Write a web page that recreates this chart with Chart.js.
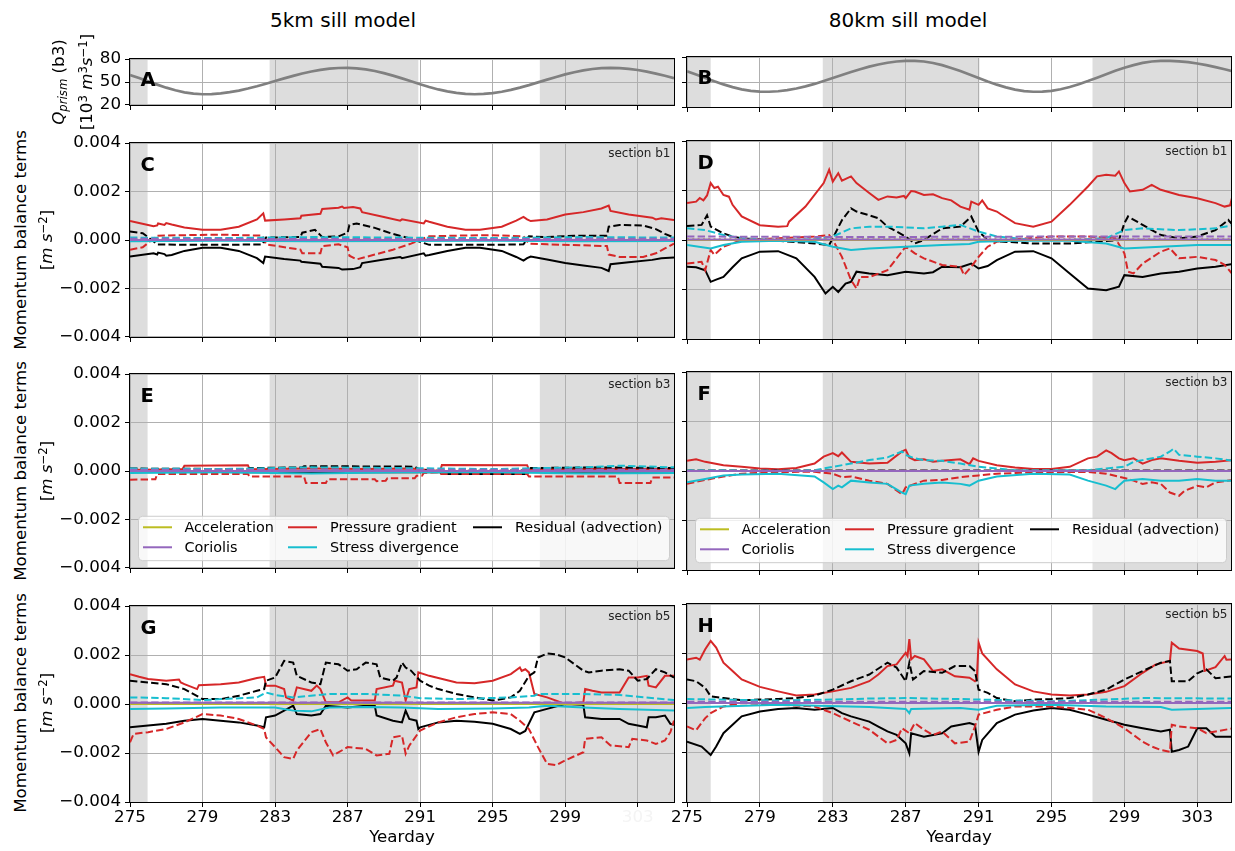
<!DOCTYPE html>
<html>
<head>
<meta charset="utf-8">
<script src="https://cdn.jsdelivr.net/npm/chart.js@4.4.1/dist/chart.umd.min.js"></script>
<style>
  html, body { margin: 0; padding: 0; background: #fff; }
  #fig { position: relative; width: 1235px; height: 851px; overflow: hidden;
         font-family: 'DejaVu Sans', sans-serif; color: #000; }
  #fig canvas { position: absolute; }
  .lbl { position: absolute; white-space: nowrap; line-height: 1; }
  .hc { transform: translateX(-50%); }
  .rot { transform: translate(-50%, -50%) rotate(-90deg); }
  .sup { font-size: 0.7em; position: relative; top: -0.45em; }
  .sub { font-size: 0.7em; position: relative; top: 0.28em; }
</style>
</head>
<body>
<div id="fig"></div>
<script>
// ---------------------------------------------------------------------------
// Tick values and time axis
// ---------------------------------------------------------------------------
const dayTicks = [275, 279, 283, 287, 291, 295, 299, 303];
const momTicks = [-0.004, -0.002, 0, 0.002, 0.004];
const qTicks   = [20, 50, 80];

// Shaded periods (yearday ranges) for the two model runs
const bands5km  = [[275, 275.97], [282.7, 290.9], [297.6, 305]];
const bands80km = [[275, 276.3], [282.45, 291.05], [297.25, 305]];

// ---------------------------------------------------------------------------
// Tidal prism at section b3 [10^3 m^3 s^-1], every half day
// ---------------------------------------------------------------------------
const qDays = [275,275.5,276,276.5,277,277.5,278,278.5,279,279.5,280,280.5,281,281.5,282,282.5,
  283,283.5,284,284.5,285,285.5,286,286.5,287,287.5,288,288.5,289,289.5,290,290.5,291,291.5,292,
  292.5,293,293.5,294,294.5,295,295.5,296,296.5,297,297.5,298,298.5,299,299.5,300,300.5,301,301.5,
  302,302.5,303,303.5,304,304.5,305];
const qPrism5km = [59.1,55.1,50.8,46.6,42.6,39.2,36.5,34.8,34.0,34.2,35.1,36.7,38.8,41.5,44.5,47.8,
  51.3,54.7,58.0,61.1,63.7,65.8,67.4,68.3,68.5,67.9,66.5,64.4,61.6,58.3,54.7,50.9,47.1,43.5,40.3,
  37.7,35.7,34.4,34.0,34.4,35.5,37.3,39.7,42.6,45.9,49.5,53.1,56.6,59.9,62.8,65.2,67.0,68.1,68.5,
  68.2,67.2,65.7,63.6,61.0,58.1,54.9];
const qPrism80km = [62.9,58.9,54.8,50.8,47.1,43.8,41.2,39.4,38.4,38.3,38.9,40.2,42.2,44.7,47.7,51.1,
  54.7,58.3,61.9,65.3,68.4,71.0,73.1,74.6,75.4,75.4,74.6,72.8,70.2,66.9,63.1,59.0,54.7,50.6,46.8,
  43.5,40.9,39.1,38.3,38.4,39.4,41.3,44.0,47.3,51.1,55.2,59.4,63.4,67.1,70.3,72.9,74.6,75.4,75.4,
  74.8,73.8,72.2,70.3,67.9,65.3,62.4];

// ---------------------------------------------------------------------------
// Momentum balance terms, stored as [day, value, day, value, ...]
// values in 10^-3 m s^-2; "...2" arrays are the dashed component
// ---------------------------------------------------------------------------
// 5 km sill, section b1
const c_ac  = [275,0, 305,0];
const c_ac2 = [275,0.02, 305,0.02];
const c_co  = [275,0, 305,0];
const c_co2 = [275,0.05, 290,0.04, 305,0.05];
const c_sd  = [275,-0.05, 280,-0.03, 285,-0.05, 290,-0.04, 295,-0.03, 300,-0.05, 305,-0.04];
const c_sd2 = [275,0.1, 280,0.08, 285,0.12, 290,0.1, 295,0.08, 300,0.12, 305,0.1];
const c_pg  = [275,0.78, 275.5,0.7, 276.3,0.57, 276.5,0.6, 276.55,0.68, 276.9,0.62, 277,0.7, 277.3,0.64,
  278,0.52, 279,0.42, 280,0.42, 281,0.55, 282,0.85, 282.35,1.1, 282.45,0.8, 283.5,0.85, 284.4,0.9,
  284.45,1.0, 285.5,1.08, 285.6,1.28, 286.5,1.33, 286.7,1.38, 286.8,1.32, 287.3,1.36, 287.7,1.3,
  287.8,1.15, 289,0.95, 289.9,0.8, 290,0.85, 291.2,0.68, 291.3,0.8, 291.5,0.75, 292.5,0.55,
  293.5,0.42, 294.3,0.42, 295.5,0.55, 296.3,0.8, 296.7,0.95, 296.9,0.85, 297.1,0.78, 298,0.85,
  299,1.05, 300,1.15, 301,1.3, 301.4,1.42, 301.5,1.2, 302.5,1.05, 303.8,0.92, 304,0.85, 304.3,0.9, 305,0.82];
const c_pg2 = [275,-0.4, 275.7,-0.3, 276.2,0, 276.5,0.18, 278,0.2, 280,0.22, 282.3,0.18, 282.5,-0.18,
  284.4,-0.4, 284.5,-0.55, 285.5,-0.55, 285.6,-0.25, 286.5,-0.18, 287,-0.3, 287.1,-0.65, 287.5,-0.8,
  288.5,-0.6, 289.5,-0.4, 290.5,-0.15, 291.3,0.1, 291.5,0.15, 293,0.18, 295,0.2, 296.7,0.15, 297,-0.15,
  298,-0.18, 300,-0.22, 301.3,-0.25, 301.4,-0.6, 302,-0.7, 303.3,-0.7, 304,-0.55, 304.5,-0.35, 305,-0.15];
const c_res = [275,-0.68, 276.3,-0.55, 276.5,-0.6, 276.55,-0.52, 276.9,-0.58, 277,-0.65, 277.3,-0.62,
  278,-0.45, 279,-0.32, 280,-0.32, 281,-0.45, 282,-0.75, 282.35,-0.95, 282.45,-0.68, 283.5,-0.78,
  284.4,-0.85, 284.45,-0.9, 285.5,-0.98, 285.6,-1.1, 286.5,-1.15, 286.7,-1.22, 287.3,-1.2, 287.7,-1.12,
  287.8,-0.95, 289,-0.8, 289.9,-0.7, 290,-0.75, 291.2,-0.55, 291.3,-0.65, 291.5,-0.62, 292.5,-0.45,
  293.5,-0.32, 294.3,-0.32, 295.5,-0.45, 296.3,-0.7, 296.7,-0.85, 296.9,-0.75, 297.1,-0.68, 298,-0.8,
  299,-0.95, 300,-1.05, 301,-1.15, 301.4,-1.28, 301.5,-1.0, 302.5,-0.92, 303.8,-0.82, 304.3,-0.75, 305,-0.72];
const c_res2 = [275,0.35, 275.7,0.28, 276.2,0, 276.5,-0.18, 278,-0.2, 280,-0.2, 282.3,-0.18, 282.5,0.1,
  284.4,0.12, 284.5,0.3, 285.2,0.42, 285.5,0.2, 285.6,0.12, 286.5,0.15, 287,0.3, 287.1,0.62, 287.5,0.68,
  288.5,0.5, 289.5,0.25, 290.5,0.05, 291.3,-0.15, 291.5,-0.2, 293,-0.2, 295,-0.2, 296.7,-0.18, 297,0.15,
  298,0.12, 299.5,0.18, 301.3,0.18, 301.4,0.55, 302,0.62, 303.3,0.6, 304,0.45, 304.5,0.25, 305,0.1];

// 80 km sill, section b1
const d_ac  = [275,0, 305,0];
const d_ac2 = [275,0.03, 305,0.03];
const d_co  = [275,0.02, 305,0.02];
const d_co2 = [275,0.14, 285,0.12, 295,0.14, 305,0.14];
const d_sd  = [275,-0.2, 276.3,-0.34, 277,-0.2, 278,-0.07, 280,-0.03, 282,-0.07, 283,-0.27, 284,-0.4,
  285,-0.34, 287,-0.27, 289,-0.2, 290.5,-0.16, 291,-0.07, 293,-0.03, 296,-0.03, 298,-0.14, 299,-0.34,
  301,-0.27, 303,-0.2, 305,-0.2];
const d_sd2 = [275,0.47, 276,0.4, 277,0.2, 278,0.07, 280,0, 282,0.03, 283,0.14, 284,0.47, 285,0.54,
  286,0.54, 287,0.51, 288,0.47, 289,0.54, 290,0.61, 291,0.34, 292,0.14, 294,0, 296,0, 298,0.07, 299,0.4,
  300,0.47, 302,0.4, 304,0.47, 305,0.6];
const d_pg  = [275,1.49, 275.5,1.55, 275.7,1.7, 275.9,1.6, 276.1,1.8, 276.3,2.3, 276.5,2.1, 276.7,2.15,
  277,1.82, 277.3,1.75, 277.5,1.42, 278,0.95, 279,0.6, 280,0.54, 280.5,0.56, 280.6,0.74, 281.5,1.35,
  282.5,2.3, 282.8,2.84, 283,2.36, 283.3,2.7, 283.5,2.4, 284,2.57, 284.3,2.3, 285,1.9, 285.5,1.62,
  286,1.76, 286.5,1.72, 286.9,1.78, 287,1.69, 287.3,1.98, 287.5,1.96, 288,1.82, 288.5,1.85, 289,1.69,
  289.5,1.6, 290,1.35, 290.5,1.22, 290.6,1.55, 291,1.42, 291.2,1.6, 291.5,1.28, 292,1.15, 292.2,1.05,
  293,0.68, 294,0.54, 295,0.74, 296,1.42, 297,2.16, 297.5,2.57, 298,2.64, 298.5,2.6, 298.7,2.77,
  299,2.3, 299.3,1.96, 300,2.03, 300.5,2.23, 301,2.03, 302,1.82, 303,1.69, 304,1.49, 304.5,1.35,
  304.8,1.4, 304.9,1.69];
const d_pg2 = [275,-0.95, 275.8,-0.88, 276,-1.22, 276.3,-0.4, 276.5,-0.6, 277,-0.27, 278,0, 280,0.07,
  282,0.14, 282.8,0.2, 283,0, 283.5,-0.68, 284,-1.62, 284.3,-1.96, 284.5,-1.49, 285,-1.5, 286,-1.22,
  287,-0.27, 287.5,-0.54, 288,-0.74, 289,-1.01, 290,-1.08, 290.2,-1.42, 290.6,-1.08, 291,-0.68,
  291.5,-0.27, 292,-0.07, 293,0.03, 295,0.14, 297,0.14, 298.5,0.07, 299,-0.54, 299.2,-1.28, 299.5,-1.35,
  300,-0.95, 301,-0.47, 301.5,-0.34, 302,-0.74, 303,-0.68, 304,-0.81, 304.5,-1.0, 304.9,-1.35];
const d_res = [275,-1.08, 275.5,-1.1, 276,-1.22, 276.3,-1.69, 276.6,-1.6, 277,-1.49, 277.5,-1.1,
  278,-0.74, 279,-0.47, 280,-0.45, 281,-0.74, 282,-1.49, 282.6,-2.16, 283,-1.89, 283.3,-2.1, 283.7,-1.76,
  284,-1.69, 284.3,-1.28, 285,-1.35, 286,-1.42, 287,-1.28, 288,-1.35, 288.5,-1.3, 289,-1.08, 290,-1.1,
  290.6,-0.95, 291,-1.15, 291.5,-1.05, 292,-0.81, 293,-0.47, 294,-0.45, 295,-0.74, 296,-1.35, 297,-1.96,
  298,-2.03, 298.7,-1.89, 299,-1.42, 300,-1.49, 301,-1.35, 302,-1.28, 303,-1.15, 304,-1.08, 304.9,-0.97];
const d_res2 = [275,0.57, 275.8,0.61, 276.1,1.0, 276.3,0.54, 277,0.27, 277.5,0.14, 278,0.07, 280,-0.03,
  282,-0.14, 282.8,-0.2, 283,0.07, 283.5,0.8, 284,1.28, 284.3,1.15, 285,1.0, 285.5,0.88, 286,0.54,
  287,0.14, 287.5,-0.14, 288,0, 289,0.47, 290,0.54, 290.6,0.95, 291,0.34, 291.5,0, 292,-0.05, 294,-0.14,
  296,-0.14, 297.5,-0.07, 298.7,0, 299,0.68, 299.2,0.95, 300,0.61, 301,0.2, 302,0.07, 303,0.14, 304,0.4,
  304.7,0.81, 304.9,0.65];

// 5 km sill, section b3
const e_ac  = [275,0, 305,0];
const e_ac2 = [275,0.02, 305,0.02];
const e_co  = [275,0, 305,0];
const e_co2 = [275,0.05, 305,0.05];
const e_sd  = [275,-0.08, 280,-0.05, 285,-0.1, 290,-0.05, 295,-0.05, 300,-0.1, 305,-0.08];
const e_sd2 = [275,0.1, 280,0.08, 285,0.15, 290,0.12, 295,0.08, 300,0.15, 302,0.22, 305,0.15];
const e_pg  = [275,0.04, 277.9,0.08, 278,0.22, 281.5,0.24, 281.6,0.07, 285,0.1, 288,0.08, 290.5,0.1,
  292.1,0, 292.2,0.25, 296.9,0.24, 297,0.06, 300,0.08, 305,0.08];
const e_pg2 = [275,-0.36, 276.4,-0.34, 276.5,-0.12, 281.5,-0.12, 281.6,-0.23, 284.6,-0.23, 284.7,-0.5,
  285.8,-0.5, 285.9,-0.34, 288.5,-0.34, 288.6,-0.42, 289.1,-0.4, 289.2,-0.3, 290.7,-0.3, 290.8,-0.2,
  291.1,-0.2, 291.2,-0.08, 292,-0.05, 292.1,-0.12, 296.9,-0.12, 297,-0.23, 301.9,-0.23, 302,-0.5,
  303.7,-0.5, 303.8,-0.27, 305,-0.27];
const e_res  = [275,-0.02, 281.6,-0.05, 292.1,-0.05, 292.2,-0.12, 296.9,-0.12, 297,-0.03, 305,-0.02];
const e_res2 = [275,0.1, 281.5,0.08, 281.6,0.12, 284.5,0.15, 284.6,0.2, 290.7,0.18, 291,0.05, 292.1,0,
  296.9,0.02, 297,0.12, 301,0.15, 305,0.12];

// 80 km sill, section b3
const f_ac  = [275,0, 305,0];
const f_ac2 = [275,0.01, 305,0.01];
const f_co  = [275,0, 305,0];
const f_co2 = [275,0.01, 305,0.01];
const f_sd  = [275,-0.46, 276,-0.32, 277,-0.18, 278,-0.14, 280,-0.11, 282,-0.22, 282.5,-0.46, 283,-0.73,
  283.3,-0.59, 283.5,-0.66, 284,-0.39, 285,-0.46, 286,-0.52, 286.8,-0.87, 287,-0.94, 287.2,-0.59,
  288,-0.52, 289,-0.46, 290,-0.52, 290.5,-0.59, 291,-0.39, 292,-0.22, 294,-0.11, 296,-0.14, 297,-0.39,
  298,-0.59, 298.5,-0.73, 298.7,-0.59, 299,-0.39, 300,-0.32, 301,-0.39, 302,-0.39, 303,-0.32, 304,-0.39, 305,-0.39];
const f_sd2 = [275,0.03, 277,0.03, 280,0, 282,0.03, 283,0.17, 284,0.3, 285,0.44, 286,0.55, 286.8,0.79,
  287,0.65, 287.5,0.51, 288,0.44, 289,0.41, 290,0.3, 291,0.17, 293,0.03, 297,0.03, 298,0.1, 299,0.17,
  299.5,0.37, 300,0.44, 301,0.58, 301.5,0.79, 301.7,0.9, 302,0.65, 303,0.58, 304,0.51, 305,0.41];
const f_pg  = [275,0.41, 275.5,0.47, 276,0.37, 277,0.23, 278,0.17, 279,0.1, 280,0.07, 281,0.12, 282,0.3,
  282.5,0.58, 283,0.72, 283.3,0.6, 283.5,0.75, 284,0.37, 285,0.3, 286,0.33, 286.8,0.79, 287,0.86,
  287.2,0.55, 287.5,0.44, 288,0.47, 288.5,0.37, 289,0.41, 290,0.47, 290.5,0.28, 290.7,0.51, 291,0.41,
  292,0.23, 293,0.14, 294,0.08, 295,0.08, 296,0.17, 297,0.51, 297.5,0.58, 298,0.83, 298.3,0.72,
  298.7,0.51, 299,0.44, 299.5,0.51, 300,0.3, 300.5,0.44, 301,0.51, 302,0.41, 303,0.33, 304,0.37, 305,0.44];
const f_pg2 = [275,-0.52, 276,-0.36, 277,-0.22, 278,-0.11, 280,-0.04, 282,-0.03, 283,-0.11, 283.5,-0.25,
  284,-0.22, 285,-0.39, 286,-0.52, 286.8,-0.94, 287,-0.66, 287.5,-0.52, 288,-0.39, 289,-0.36, 290,-0.25,
  291,-0.18, 292,-0.11, 294,-0.05, 297,-0.04, 298,-0.11, 299,-0.28, 299.5,-0.39, 300,-0.52, 300.5,-0.46,
  301,-0.52, 301.5,-0.87, 302,-1.0, 302.3,-0.8, 303,-0.6, 303.5,-0.66, 304,-0.46, 305,-0.36];
const f_res  = [275,0, 305,0];
const f_res2 = [275,0.02, 305,0.02];

// 5 km sill, section b5
const g_ac  = [275,0, 305,0];
const g_ac2 = [275,0.01, 305,0.01];
const g_co  = [275,0.05, 305,0.05];
const g_co2 = [275,0.06, 305,0.06];
const g_sd  = [275,-0.2, 277,-0.18, 280,-0.14, 283,-0.14, 284,-0.27, 285,-0.3, 286,-0.14, 288,-0.12,
  290,-0.14, 292,-0.2, 295,-0.18, 297,-0.14, 298,-0.07, 300,-0.14, 302,-0.2, 305,-0.27];
const g_sd2 = [275,0.27, 277,0.24, 279,0.16, 282,0.27, 282.5,0.47, 283,0.37, 284,0.27, 286,0.41,
  288,0.41, 290,0.34, 291,0.24, 293,0.2, 296,0.27, 297.3,0.34, 297.5,0.41, 300,0.41, 302,0.37, 305,0.16];
const g_pg  = [275,1.22, 275.5,1.11, 276,1.02, 277,0.95, 277.7,1.0, 277.8,0.88, 278,0.81, 278.7,0.61,
  278.8,0.77, 280,0.81, 281,0.88, 282,1.06, 282.4,1.11, 282.5,0.75, 283,0.75, 283.5,0.61, 283.6,0.27,
  284,0.14, 284.2,0.68, 285,0.54, 285.3,0.75, 285.5,0.61, 285.8,0.07, 286.5,0.07, 287,0.27, 287.2,0.14,
  288.5,0.14, 288.6,0.61, 289.5,0.75, 289.6,0.95, 290,0.88, 290.2,0.14, 290.4,0.61, 290.8,0.68,
  290.9,1.29, 291.5,1.15, 292,1.06, 293,0.88, 294,0.85, 295,0.95, 296,1.22, 296.5,1.49, 296.6,1.35,
  296.8,1.42, 297,1.29, 297.3,0.41, 298,0.27, 299,0, 300,0.07, 300.1,0.61, 300.5,0.54, 301,0.47,
  302,0.47, 302.5,1.08, 303,1.08, 303.5,1.15, 303.6,0.75, 304,0.68, 304.5,1.15, 305,1.15];
const g_pg2 = [275,-1.56, 275.2,-1.22, 276,-1.15, 277,-1.02, 278,-0.75, 279,-0.41, 280,-0.47, 281,-0.61,
  282,-0.88, 282.4,-1.02, 282.5,-1.36, 283,-1.76, 283.5,-2.17, 284,-2.24, 284.2,-1.9, 285,-1.15,
  285.5,-1.02, 285.8,-1.56, 286.2,-2.1, 287,-1.76, 288,-1.83, 288.6,-2.1, 289.3,-2.03, 289.5,-1.36,
  290,-1.29, 290.2,-2.03, 290.4,-1.7, 291,-1.08, 292,-0.75, 293,-0.54, 294,-0.41, 295,-0.34, 296,-0.41,
  296.5,-0.68, 297,-1.02, 297.5,-1.76, 298,-2.44, 298.5,-2.5, 299,-2.3, 300,-1.97, 300.1,-1.42,
  301,-1.36, 301.5,-1.69, 302.5,-1.76, 302.7,-1.42, 303.5,-1.49, 304,-1.63, 304.5,-1.49, 304.8,-1.15, 305,-0.68];
const g_res = [275,-0.95, 276,-0.88, 277,-0.81, 278,-0.68, 279,-0.61, 280,-0.68, 281,-0.75, 282,-0.88,
  282.4,-0.95, 282.5,-0.54, 283,-0.47, 283.5,-0.27, 284,-0.07, 284.2,-0.41, 285,-0.47, 285.5,-0.41,
  285.8,-0.07, 287,-0.14, 288,-0.07, 288.5,-0.07, 288.6,-0.47, 289.5,-0.68, 290,-0.75, 290.2,-0.27,
  290.4,-0.61, 290.8,-0.68, 290.9,-1.02, 291,-0.95, 292,-0.75, 293,-0.68, 294,-0.72, 295,-0.81,
  296,-1.02, 296.5,-1.22, 296.8,-1.1, 297.3,-0.34, 298,-0.2, 299,0, 300,-0.03, 300.1,-0.54, 301,-0.61,
  302,-0.61, 302.5,-0.81, 303,-0.88, 303.5,-0.95, 303.6,-0.54, 304,-0.54, 304.5,-0.47, 304.8,-0.81, 305,-0.85];
const g_res2 = [275,0.95, 276,0.88, 277,0.81, 278,0.61, 279,0.2, 280,0.2, 281,0.34, 282,0.54, 282.4,0.61,
  282.5,0.95, 283,1.08, 283.5,1.76, 284,1.69, 284.2,1.15, 285,0.88, 285.5,0.81, 285.8,1.69, 286.5,1.62,
  287,1.36, 287.5,1.42, 288,1.69, 288.6,1.62, 288.8,1.08, 289.5,0.95, 289.7,1.08, 290,1.69, 290.2,1.49,
  290.5,1.36, 291,0.95, 291.5,0.75, 292,0.61, 293,0.41, 294,0.27, 295,0.14, 296,0.27, 296.5,0.54,
  297,1.15, 297.3,1.29, 297.5,1.9, 298,2.06, 298.5,2.03, 299,1.9, 300,1.36, 300.3,1.29, 301,1.36,
  302,1.42, 302.5,1.36, 303,0.95, 303.5,1.02, 304,1.42, 304.5,1.29, 305,1.08];

// 80 km sill, section b5
const h_ac  = [275,0, 305,0];
const h_ac2 = [275,0.01, 305,0.01];
const h_co  = [275,0, 305,0];
const h_co2 = [275,0.05, 305,0.05];
const h_sd  = [275,-0.2, 276,-0.16, 280,-0.07, 285,-0.16, 287,-0.24, 287.2,-0.41, 287.3,-0.24, 290,-0.2,
  291,-0.27, 292,-0.11, 295,-0.07, 298,-0.14, 301,-0.16, 301.6,-0.27, 305,-0.2];
const h_sd2 = [275,0.16, 280,0.1, 283,0.14, 285,0.18, 287,0.2, 290,0.16, 291,0.14, 295,0.07, 298,0.14,
  300,0.2, 305,0.18];
const h_pg  = [275,1.76, 275.5,1.83, 275.7,1.75, 276,2.17, 276.3,2.51, 276.6,2.24, 277,1.63, 277.5,1.29,
  278,0.95, 279,0.65, 280,0.47, 281,0.3, 282,0.34, 283,0.47, 283.5,0.54, 284,0.61, 285,0.88, 285.5,1.15,
  286,1.49, 286.5,1.56, 287,2.03, 287.1,1.9, 287.2,2.58, 287.3,1.76, 287.5,1.9, 288,1.76, 288.5,1.29,
  289,1.36, 289.7,1.08, 290.5,1.02, 290.8,0.88, 290.9,0.95, 291,2.44, 291.2,2.0, 292,1.36, 293,0.75,
  294,0.47, 295,0.34, 296,0.3, 297,0.34, 298,0.45, 299,0.68, 300,1.22, 300.7,1.55, 301.5,1.7, 301.6,2.44,
  302,2.2, 303,2.1, 303.3,2.0, 303.4,1.3, 304,1.45, 304.5,1.9, 304.6,1.75, 305,1.76];
const h_pg2 = [275,-0.95, 275.5,-1.1, 276,-0.61, 276.3,-0.41, 277,-0.14, 278,0, 280,-0.07, 282,-0.14,
  283,-0.41, 284,-0.75, 285,-1.08, 286,-1.63, 286.5,-1.49, 286.8,-1.02, 287.2,-1.22, 287.5,-0.81,
  288,-1.08, 288.5,-1.29, 289,-1.15, 289.7,-1.63, 290.5,-1.56, 290.8,-0.95, 291,-0.47, 292,-0.27,
  293,-0.14, 295,-0.14, 297,-0.27, 298,-0.61, 299,-1.02, 300,-1.56, 300.5,-1.76, 301,-1.9, 301.5,-1.97,
  301.6,-0.88, 302,-0.95, 303,-1.02, 303.5,-1.22, 304,-1.15, 305,-1.02];
const h_res = [275,-1.56, 275.8,-1.76, 276.3,-2.1, 276.6,-1.76, 277,-1.22, 277.5,-0.88, 278,-0.54,
  279,-0.34, 280,-0.24, 281,-0.2, 282,-0.27, 283,-0.2, 283.5,-0.41, 284,-0.54, 285,-0.75, 285.5,-0.95,
  286,-1.15, 286.5,-1.29, 287,-1.63, 287.2,-2.03, 287.3,-1.22, 288,-1.36, 289,-1.22, 289.5,-0.95,
  290.5,-0.81, 290.8,-0.88, 291,-1.97, 291.2,-1.49, 292,-0.81, 293,-0.47, 294,-0.3, 295,-0.2, 296,-0.27,
  297,-0.47, 298,-0.68, 299,-0.88, 300,-1.02, 301,-1.15, 301.5,-1.08, 301.6,-1.97, 302,-1.9, 302.5,-1.76,
  303,-1.02, 303.5,-1.02, 304,-1.36, 305,-1.36];
const h_res2 = [275,0.95, 275.5,0.88, 276,0.61, 276.3,0.27, 277,0.2, 278,0.11, 279,0.14, 280,0.16,
  281,0.2, 282,0.3, 283,0.54, 284,0.88, 285,1.15, 286,1.63, 286.5,1.43, 287,0.88, 287.2,1.63, 287.4,0.95,
  288,1.29, 289,1.22, 289.7,1.49, 290.5,1.49, 290.8,1.29, 291,0.54, 291.5,0.41, 292,0.2, 293,0.07,
  294,0.14, 295,0.16, 296,0.2, 297,0.34, 298,0.54, 299,0.95, 300,1.29, 301,1.63, 301.5,1.7, 301.6,0.88,
  302.5,0.88, 303,1.2, 303.5,1.36, 304,1.0, 305,1.08];

// Legend labels and colours
const termNames  = ['Acceleration', 'Coriolis', 'Pressure gradient', 'Stress divergence', 'Residual (advection)'];
const termColors = ['#bcbd22', '#9467bd', '#d62728', '#17becf', '#000000'];

// ---------------------------------------------------------------------------
// Layout (pixels)
// ---------------------------------------------------------------------------
const MOM_UNIT = 1e-3;
const MT = 12, MR = 4;
const COLS = [
  { x0: 130, w: 544, ml: 80, xmax: 305,    bands: bands5km },
  { x0: 687, w: 544, ml: 45, xmax: 304.85, bands: bands80km }
];
const ROWS = [
  { y0: 57,  h: 50,  mb: 12 },
  { y0: 141, h: 198, mb: 12 },
  { y0: 372, h: 198, mb: 12 },
  { y0: 604, h: 198, mb: 42 }
];
const FONT = "'DejaVu Sans', sans-serif";
Chart.defaults.font.family = FONT;
Chart.defaults.color = '#000';

const fig = document.getElementById('fig');

function pts(flat) {
  const out = [];
  for (let i = 0; i < flat.length; i += 2) out.push({ x: flat[i], y: flat[i + 1] * MOM_UNIT });
  return out;
}

// term key -> colour / dashed
const TERM_STYLE = {
  co: ['#9467bd', false], co2: ['#9467bd', true],
  ac: ['#bcbd22', false], ac2: ['#bcbd22', true],
  sd: ['#17becf', false], sd2: ['#17becf', true],
  res2: ['#000000', true], pg2: ['#d62728', true],
  res: ['#000000', false], pg: ['#d62728', false]
};
const DRAW_ORDER = ['co', 'co2', 'ac', 'ac2', 'sd', 'sd2', 'res2', 'pg2', 'res', 'pg'];

function momentumDatasets(s) {
  return DRAW_ORDER.map(k => ({
    data: pts(s[k]),
    borderColor: TERM_STYLE[k][0],
    borderWidth: 2,
    borderDash: TERM_STYLE[k][1] ? (k === 'ac2' ? [2, 3.3] : [7.4, 3.2]) : [],
    pointRadius: 0,
    tension: 0,
    fill: false
  }));
}

function decorPlugin(p) {
  return {
    id: 'decor' + p.letter,
    beforeDraw(chart) {
      const { ctx, chartArea: a } = chart;
      const x = chart.scales.x;
      ctx.save();
      ctx.fillStyle = '#dddddd';
      for (const [b0, b1] of COLS[p.col].bands) {
        const p0 = Math.max(a.left, x.getPixelForValue(b0));
        const p1 = Math.min(a.right, x.getPixelForValue(b1));
        if (p1 > p0) ctx.fillRect(p0, a.top, p1 - p0, a.bottom - a.top);
      }
      ctx.restore();
    },
    afterDraw(chart) {
      const { ctx, chartArea: a } = chart;
      ctx.save();
      // frame
      ctx.strokeStyle = '#000';
      ctx.lineWidth = 1;
      ctx.strokeRect(Math.round(a.left) - 0.5, Math.round(a.top) - 0.5,
                     Math.round(a.right - a.left) + 1, Math.round(a.bottom - a.top) + 1);
      // panel letter
      ctx.fillStyle = '#000';
      ctx.font = 'bold 19.5px ' + FONT;
      ctx.textAlign = 'left';
      ctx.textBaseline = 'alphabetic';
      ctx.fillText(p.letter, a.left + 10.5, a.top + (p.row === 0 ? 26.5 : 28));
      // section tag
      if (p.section) {
        ctx.font = '12px ' + FONT;
        ctx.textAlign = 'right';
        ctx.fillStyle = '#222';
        ctx.fillText(p.section, a.right - 3.5, a.top + 14);
      }
      // legend
      if (p.legend) {
        const bx = a.left + 8.5, by = a.bottom - 51.7, bw = 531, bh = 44.4;
        ctx.beginPath();
        ctx.roundRect(bx, by, bw, bh, 4);
        ctx.fillStyle = 'rgba(255,255,255,0.8)';
        ctx.fill();
        ctx.strokeStyle = '#cccccc';
        ctx.lineWidth = 1;
        ctx.stroke();
        const handleX = [4.5, 149.5, 334.5], textX = [46, 191.5, 376.5], rowY = [11, 31];
        const slot = [[0, 0], [0, 1], [1, 0], [1, 1], [2, 0]];
        ctx.font = '14.4px ' + FONT;
        ctx.textAlign = 'left';
        ctx.textBaseline = 'middle';
        termNames.forEach((name, i) => {
          const [c, r] = slot[i];
          const yy = by + rowY[r];
          ctx.beginPath();
          ctx.strokeStyle = termColors[i];
          ctx.lineWidth = 2;
          ctx.moveTo(bx + handleX[c], yy);
          ctx.lineTo(bx + handleX[c] + 29, yy);
          ctx.stroke();
          ctx.fillStyle = '#000';
          ctx.fillText(name, bx + textX[c], yy + 0.5);
        });
      }
      ctx.restore();
    }
  };
}

function addPanel(p) {
  const col = COLS[p.col], row = ROWS[p.row];
  const W = col.ml + col.w + MR, H = MT + row.h + row.mb;
  const cv = document.createElement('canvas');
  cv.width = W; cv.height = H;
  cv.style.left = (col.x0 - col.ml) + 'px';
  cv.style.top = (row.y0 - MT) + 'px';
  cv.style.width = W + 'px';
  cv.style.height = H + 'px';
  fig.appendChild(cv);

  const isQ = p.row === 0;
  const datasets = isQ
    ? [{ data: qDays.map((d, i) => ({ x: d, y: p.q[i] })), borderColor: '#808080', borderWidth: 2.7,
         pointRadius: 0, tension: 0, fill: false }]
    : momentumDatasets(p.s);
  const yVals = isQ ? qTicks : momTicks;
  const showX = p.row === 3;
  const gridOpts = { color: '#b0b0b0', lineWidth: 1, tickColor: '#000', tickLength: 5, tickWidth: 1 };

  new Chart(cv, {
    type: 'line',
    data: { datasets },
    options: {
      responsive: false, animation: false, devicePixelRatio: 1,
      events: [],
      layout: { padding: { top: MT, right: MR, left: 0, bottom: 0 } },
      plugins: { legend: { display: false }, tooltip: { enabled: false }, title: { display: false } },
      scales: {
        x: {
          type: 'linear', min: 275, max: col.xmax, bounds: 'data',
          afterBuildTicks: s => { s.ticks = dayTicks.map(v => ({ value: v })); },
          afterFit: s => { s.height = row.mb; },
          grid: gridOpts,
          border: { display: false },
          ticks: {
            display: showX, autoSkip: false, maxRotation: 0, minRotation: 0, padding: 1,
            font: { size: 16.7, family: FONT },
            color: ctx => (p.col === 0 && ctx.tick && ctx.tick.value === 303) ? '#f4f4f4' : '#000',
            callback: v => String(v)
          }
        },
        y: {
          type: 'linear', min: yVals[0], max: yVals[yVals.length - 1], bounds: 'data',
          afterBuildTicks: s => { s.ticks = yVals.map(v => ({ value: v })); },
          afterFit: s => { s.width = col.ml; },
          grid: gridOpts,
          border: { display: false },
          ticks: {
            display: p.col === 0, padding: 4,
            font: { size: 16.7, family: FONT },
            callback: v => isQ ? String(v)
              : (Math.abs(v) < 1e-12 ? 0 : v).toFixed(3).replace('-', '\u2212')
          }
        }
      }
    },
    plugins: [decorPlugin(p)]
  });
}

const PANELS = [
  { letter: 'A', col: 0, row: 0, q: qPrism5km },
  { letter: 'B', col: 1, row: 0, q: qPrism80km },
  { letter: 'C', col: 0, row: 1, section: 'section b1',
    s: { ac: c_ac, ac2: c_ac2, co: c_co, co2: c_co2, pg: c_pg, pg2: c_pg2, sd: c_sd, sd2: c_sd2, res: c_res, res2: c_res2 } },
  { letter: 'D', col: 1, row: 1, section: 'section b1',
    s: { ac: d_ac, ac2: d_ac2, co: d_co, co2: d_co2, pg: d_pg, pg2: d_pg2, sd: d_sd, sd2: d_sd2, res: d_res, res2: d_res2 } },
  { letter: 'E', col: 0, row: 2, section: 'section b3', legend: true,
    s: { ac: e_ac, ac2: e_ac2, co: e_co, co2: e_co2, pg: e_pg, pg2: e_pg2, sd: e_sd, sd2: e_sd2, res: e_res, res2: e_res2 } },
  { letter: 'F', col: 1, row: 2, section: 'section b3', legend: true,
    s: { ac: f_ac, ac2: f_ac2, co: f_co, co2: f_co2, pg: f_pg, pg2: f_pg2, sd: f_sd, sd2: f_sd2, res: f_res, res2: f_res2 } },
  { letter: 'G', col: 0, row: 3, section: 'section b5',
    s: { ac: g_ac, ac2: g_ac2, co: g_co, co2: g_co2, pg: g_pg, pg2: g_pg2, sd: g_sd, sd2: g_sd2, res: g_res, res2: g_res2 } },
  { letter: 'H', col: 1, row: 3, section: 'section b5',
    s: { ac: h_ac, ac2: h_ac2, co: h_co, co2: h_co2, pg: h_pg, pg2: h_pg2, sd: h_sd, sd2: h_sd2, res: h_res, res2: h_res2 } }
];
PANELS.forEach(addPanel);

// Text around the panels
function addLabel(html, css, cls) {
  const d = document.createElement('div');
  d.className = 'lbl ' + (cls || '');
  d.innerHTML = html;
  Object.assign(d.style, css);
  fig.appendChild(d);
}
addLabel('5km sill model',  { left: '343px', top: '9.8px', fontSize: '20px' }, 'hc');
addLabel('80km sill model', { left: '908px', top: '9.8px', fontSize: '20px' }, 'hc');
addLabel('Yearday', { left: '402px', top: '828px', fontSize: '16.7px' }, 'hc');
addLabel('Yearday', { left: '959px', top: '828px', fontSize: '16.7px' }, 'hc');

addLabel('<i>Q</i><span class="sub"><i>prism</i></span> (b3)', { left: '58px', top: '82px', fontSize: '16.7px' }, 'rot');
addLabel('[10<span class="sup">3</span> <i>m</i><span class="sup">3</span><i>s</i><span class="sup">\u22121</span>]',
         { left: '85.5px', top: '82px', fontSize: '16.7px' }, 'rot');
[240, 471, 703].forEach(cy => {
  addLabel('Momentum balance terms', { left: '19.5px', top: cy + 'px', fontSize: '16.7px' }, 'rot');
  addLabel('[<i>m</i> <i>s</i><span class="sup">\u22122</span>]', { left: '46px', top: cy + 'px', fontSize: '16.7px' }, 'rot');
});
</script>
</body>
</html>
